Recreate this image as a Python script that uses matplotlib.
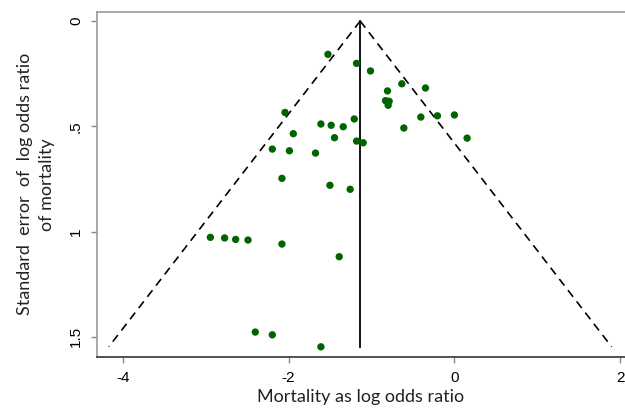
import numpy as np
import matplotlib
matplotlib.use("Agg")
import matplotlib.pyplot as plt

# 研究ごとの log odds ratio と標準誤差
log_or = [-2.043, -1.943, -2.196, -1.99, -1.675, -2.08, -1.61, -1.525, -1.18, -1.012,
          -0.634, -0.349, -0.807, -0.831, -0.787, -0.799, -0.405, -0.205, 0.0, -1.486,
          -1.341, -1.208, -0.61, -1.446, -1.18, -1.1, 0.153, -1.501, -1.257,
          -2.943, -2.771, -2.638, -2.489, -2.08, -2.401, -2.196, -1.61, -1.389]
se = [0.434, 0.535, 0.608, 0.616, 0.627, 0.747, 0.489, 0.158, 0.201, 0.237,
      0.298, 0.318, 0.332, 0.378, 0.381, 0.400, 0.456, 0.450, 0.446, 0.495,
      0.502, 0.465, 0.508, 0.554, 0.570, 0.578, 0.556, 0.780, 0.799,
      1.027, 1.030, 1.037, 1.040, 1.059, 1.477, 1.490, 1.547, 1.119]

pooled = -1.136   # 縦線の位置
se_max = 1.547    # 漏斗の下端
z = 1.96

xticks = [-4, -2, 0, 2]
yticks = [0, 0.5, 1, 1.5]
yticklabels = ['0', '.5', '1', '1.5']

fig = plt.figure(figsize=(6.25, 4.12), dpi=100)
ax = fig.add_axes([0.1552, 0.1342, 0.8448, 0.8367])

# 漏斗 (95%範囲)
se_line = np.array([0, se_max])
ax.plot(pooled - z * se_line, se_line, color='black', lw=1.2, ls=(0, (5, 3.5)))
ax.plot(pooled + z * se_line, se_line, color='black', lw=1.2, ls=(0, (5, 3.5)))
ax.plot([pooled, pooled], [0, se_max], color='black', lw=1.3)

ax.scatter(log_or, se, s=28, color='#006400', edgecolors='none', zorder=3)

ax.set_xlim(-4.31, 2.057)
ax.set_ylim(1.594, -0.043)

ax.set_xticks(xticks)
ax.set_xticklabels([str(t) for t in xticks])
ax.set_yticks(yticks)
ax.set_yticklabels(yticklabels, rotation=90, va='center')
ax.tick_params(axis='both', labelsize=11, length=4, color='#888888', width=1)
ax.tick_params(axis='x', pad=6)
ax.tick_params(axis='y', pad=6)
for lbl in ax.get_xticklabels() + ax.get_yticklabels():
    lbl.set_family('Liberation Sans')

ax.spines['right'].set_visible(False)
ax.spines['top'].set_color('#999999')
ax.spines['left'].set_color('#999999')
ax.spines['bottom'].set_color('#333333')
for s in ['top', 'left', 'bottom']:
    ax.spines[s].set_linewidth(1.2)

ax.set_xlabel('Mortality as log odds ratio', family='Lato', fontsize=13, color='#222222', labelpad=3)
ax.set_ylabel('Standard  error  of  log odds ratio\nof mortality', family='Lato', fontsize=13,
              color='#222222', labelpad=10, linespacing=1.5)

fig.savefig('out.png', dpi=100)
